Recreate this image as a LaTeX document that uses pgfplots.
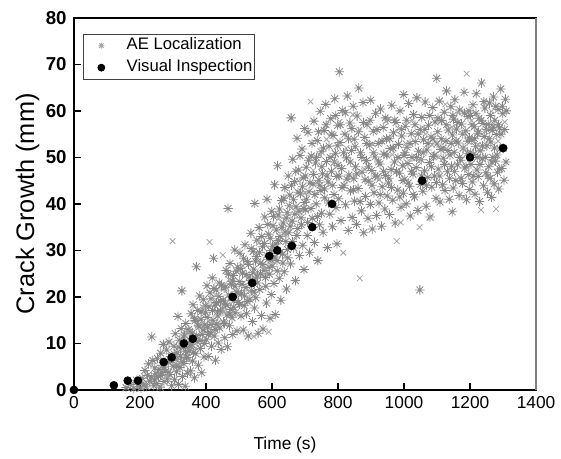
\documentclass[border=0pt]{standalone}
\usepackage{pgfplots}
\usepackage{pgfplotstable}
\pgfplotsset{compat=1.18}
\usepackage{fontspec}
\setmainfont{Liberation Sans}
\definecolor{aegray}{RGB}{135,135,135}
\definecolor{aelight}{RGB}{165,165,165}
\pgfdeclareplotmark{ast8}{%
 \pgfpathmoveto{\pgfqpoint{-\pgfplotmarksize}{0pt}}\pgfpathlineto{\pgfqpoint{\pgfplotmarksize}{0pt}}%
 \pgfpathmoveto{\pgfqpoint{0pt}{-\pgfplotmarksize}}\pgfpathlineto{\pgfqpoint{0pt}{\pgfplotmarksize}}%
 \pgfpathmoveto{\pgfqpoint{-0.707\pgfplotmarksize}{-0.707\pgfplotmarksize}}\pgfpathlineto{\pgfqpoint{0.707\pgfplotmarksize}{0.707\pgfplotmarksize}}%
 \pgfpathmoveto{\pgfqpoint{-0.707\pgfplotmarksize}{0.707\pgfplotmarksize}}\pgfpathlineto{\pgfqpoint{0.707\pgfplotmarksize}{-0.707\pgfplotmarksize}}%
 \pgfusepathqstroke}

\pgfplotstableread{
x y
158 0.5
172 1.2
181 0.3
189 2.1
195 0.8
199 1.6
203 0.4
207 2.5
212 1.1
215 4.2
219 0.7
223 3.1
226 5.6
230 1.9
234 2.8
236 11.4
239 6.3
242 0.9
245 4.7
248 3.5
251 1.4
253 6.8
256 2.9
258 4.4
261 0.6
263 7.9
266 3.7
268 5.2
271 9.8
273 1.8
276 6.1
278 4.0
281 8.6
283 2.4
286 5.9
288 10.3
291 3.3
294 7.2
296 0.9
301 5.1
303 9.4
305 2.2
307 12.1
309 6.6
311 3.9
313 8.0
315 15.8
317 1.2
319 10.7
321 4.8
323 7.3
325 13.2
327 21.3
329 2.9
331 9.1
333 5.7
335 11.8
337 0.8
339 14.3
341 6.9
344 3.6
346 10.2
349 8.4
351 12.6
353 4.1
355 16.4
357 9.7
359 6.2
361 18.3
363 11.0
365 2.6
367 14.9
369 7.8
371 26.5
373 10.4
375 17.1
377 5.3
379 13.6
381 20.2
383 8.9
385 15.2
387 3.7
389 11.9
392 19.4
394 7.1
396 14.0
399 16.7
401 10.8
403 22.4
405 13.5
407 7.2
409 17.9
413 12.3
415 19.6
417 9.4
419 24.1
421 15.0
423 28.3
425 11.6
427 18.2
429 6.4
431 21.5
433 14.2
435 16.8
437 10.1
440 23.0
442 13.3
444 19.0
446 8.7
449 17.4
453 14.6
455 21.9
457 11.2
459 18.5
461 25.7
463 16.1
465 9.3
467 39.0
469 20.4
471 13.8
473 27.2
475 17.3
477 22.8
479 15.5
481 11.9
483 24.6
485 19.2
487 30.1
489 16.6
492 21.1
494 12.7
496 26.4
499 18.8
501 23.3
503 29.4
506 15.9
508 20.7
511 25.1
513 12.9
516 18.1
518 31.2
521 22.0
523 16.4
526 27.6
528 11.6
531 24.3
533 19.5
536 33.7
538 21.4
541 14.7
543 29.8
545 26.0
547 17.6
548 40.1
549 23.9
551 19.8
553 28.7
556 24.5
558 12.2
561 34.9
563 21.6
566 27.3
568 16.0
571 30.8
573 13.1
576 25.7
578 37.2
581 22.3
583 18.7
585 41.0
588 28.1
590 33.5
592 24.9
594 15.4
596 30.0
598 20.5
599 38.4
601 26.6
603 35.3
606 22.9
608 44.1
610 16.2
612 31.4
615 27.8
617 48.2
619 37.6
622 24.0
624 33.0
627 19.3
629 40.7
632 29.2
634 35.9
637 25.4
639 43.5
642 31.9
644 21.7
646 38.1
648 28.4
649 46.0
651 33.8
654 41.9
656 27.1
658 58.5
661 36.3
663 49.6
666 30.5
668 44.8
671 23.5
673 39.4
676 54.1
678 34.7
681 47.3
683 28.9
686 42.2
688 37.0
691 51.8
693 31.1
695 45.6
697 25.9
698 40.3
699 56.2
702 38.7
704 47.9
707 33.2
709 55.4
712 42.6
714 29.6
719 50.3
722 36.9
724 44.3
727 57.8
729 31.7
732 48.8
734 40.0
737 53.6
739 27.8
742 45.1
744 35.5
746 59.9
748 42.9
749 51.2
750 38.0
753 46.5
755 33.9
758 55.8
760 41.3
763 61.4
765 49.1
768 30.6
770 44.7
773 52.4
775 37.8
778 58.3
780 47.0
783 35.1
785 54.7
788 42.0
790 62.6
792 50.8
794 39.2
796 45.9
797 31.4
799 56.9
800 48.3
802 41.1
804 68.4
806 53.2
809 36.4
811 47.6
813 60.1
818 44.0
821 55.0
823 39.8
826 49.9
828 63.2
831 34.3
833 46.2
836 57.4
838 42.8
841 51.5
843 37.1
846 61.0
848 45.4
849 53.9
850 40.6
853 48.0
856 35.6
858 58.9
861 43.3
863 64.9
868 51.0
871 38.5
873 46.8
876 61.8
878 33.8
881 54.3
883 41.6
886 49.3
888 57.0
891 36.9
893 44.9
896 52.6
898 39.9
899 62.3
902 47.2
904 34.6
907 55.6
909 42.4
912 50.1
914 59.5
917 37.5
919 45.8
922 53.0
924 40.2
927 48.6
929 60.4
932 35.2
934 43.7
937 56.4
939 50.7
942 38.9
944 46.1
947 54.0
949 41.7
951 58.1
953 44.5
956 37.7
958 51.9
961 47.4
963 61.2
966 40.8
968 55.3
971 49.0
973 35.9
976 57.5
981 43.0
983 52.8
986 46.6
988 60.0
991 39.3
993 54.6
996 48.2
998 42.3
999 63.5
1000 50.4
1002 45.3
1004 56.7
1007 40.0
1009 52.2
1012 48.7
1014 61.6
1017 43.8
1019 37.4
1022 55.1
1024 50.0
1027 46.4
1029 59.2
1032 41.5
1034 53.4
1037 47.8
1039 62.8
1042 38.6
1044 51.3
1048 21.5
1049 56.0
1050 44.2
1052 49.5
1054 58.6
1057 42.7
1059 53.8
1062 47.1
1064 61.9
1067 39.5
1069 51.6
1072 45.7
1074 56.9
1077 48.9
1079 37.2
1082 54.4
1084 43.6
1087 60.7
1089 50.2
1092 46.0
1094 57.6
1097 41.2
1099 67.0
1100 52.9
1098 44.6
1102 55.5
1104 47.5
1107 62.1
1109 40.4
1112 51.7
1114 57.9
1117 44.1
1119 49.8
1122 59.7
1124 42.9
1127 53.5
1129 64.3
1132 46.9
1134 55.9
1137 41.0
1139 50.5
1142 60.9
1144 48.1
1147 54.8
1149 43.4
1150 58.2
1146 38.3
1152 51.1
1154 62.4
1157 45.0
1159 56.1
1162 48.4
1164 53.1
1167 41.8
1169 60.2
1172 49.4
1174 57.2
1177 44.4
1179 52.0
1182 64.0
1184 47.7
1187 55.7
1189 40.9
1192 50.9
1194 58.8
1196 46.3
1198 54.2
1199 43.1
1201 59.0
1203 48.5
1205 53.7
1207 44.7
1209 61.3
1211 50.6
1213 56.6
1215 42.1
1217 52.3
1219 63.7
1221 47.3
1223 55.2
1225 45.9
1227 58.4
1229 40.5
1231 51.4
1235 66.0
1237 49.7
1239 57.3
1241 43.9
1243 54.5
1245 60.6
1248 46.7
1251 52.5
1253 42.5
1255 57.1
1257 48.0
1259 61.7
1261 45.5
1263 53.3
1265 41.4
1267 55.8
1269 50.0
1271 63.0
1273 44.3
1275 58.0
1277 49.2
1281 54.9
1283 46.8
1285 60.3
1287 43.2
1289 56.3
1291 51.8
1293 64.7
1296 47.6
1299 59.4
1303 45.1
1307 62.5
}\aestar

\pgfplotstableread{
x y
244 2.2
262 3.1
274 4.9
287 3.8
298 6.4
304 7.7
312 5.3
318 9.2
326 6.1
332 11.4
338 8.3
343 7.0
348 13.0
352 9.4
358 12.2
362 8.1
366 15.3
372 11.7
376 13.9
382 10.6
386 16.8
391 12.9
395 10.0
398 18.1
404 15.6
408 12.0
412 20.9
416 14.1
420 17.1
424 21.8
428 13.0
432 18.8
436 15.9
439 20.1
443 17.0
447 22.5
452 19.3
456 14.3
460 22.1
464 18.2
468 24.9
472 16.3
476 20.0
480 23.4
484 17.8
488 22.3
493 25.5
497 20.8
502 18.4
505 26.1
509 22.7
514 28.2
517 20.2
522 24.8
525 19.0
529 27.0
534 23.5
537 30.4
542 25.2
546 21.0
550 27.7
554 32.2
557 23.0
562 29.6
565 25.0
569 33.0
572 27.0
577 31.5
580 24.2
584 29.0
587 35.6
591 26.4
595 32.6
597 28.0
602 30.9
605 37.3
609 28.6
613 34.4
616 25.6
620 32.1
623 38.9
626 29.6
630 35.0
633 27.3
636 41.2
640 33.9
643 37.0
647 30.2
652 39.6
655 35.2
659 44.0
662 31.9
665 40.9
669 37.8
672 47.0
675 33.2
679 42.5
682 38.4
685 50.4
689 35.5
692 43.7
696 39.0
701 46.0
705 41.0
708 36.0
711 49.4
715 44.5
718 39.0
721 53.0
726 46.3
730 42.0
735 50.0
738 37.3
741 55.5
745 44.0
751 48.0
756 52.0
759 43.2
764 57.0
767 46.0
771 40.2
776 50.0
781 55.0
784 44.0
789 49.0
793 59.0
798 52.5
803 46.0
807 57.0
812 43.5
817 51.0
822 59.6
827 45.3
832 54.0
837 49.0
842 56.2
847 43.0
852 52.3
857 46.5
862 55.5
867 40.5
872 50.0
877 57.5
882 45.2
887 53.0
892 48.0
897 58.0
903 44.0
908 51.0
913 46.0
918 56.0
923 49.0
928 42.0
933 53.5
938 47.0
943 58.5
948 50.5
954 45.5
957 54.0
962 43.5
967 52.0
972 58.0
977 47.0
982 50.0
987 41.5
992 56.0
997 45.0
1003 51.0
1008 58.0
1013 44.5
1018 53.0
1023 47.0
1028 42.0
1033 57.0
1038 50.0
1043 55.0
1053 46.0
1058 51.0
1063 56.0
1068 44.0
1073 53.0
1078 59.0
1083 48.0
1088 54.0
1093 50.5
1103 58.5
1108 46.0
1113 54.0
1118 52.0
1123 48.5
1128 57.0
1133 51.5
1138 45.5
1143 53.0
1148 59.0
1153 47.0
1158 53.5
1163 57.5
1168 50.0
1173 45.5
1178 55.0
1183 59.5
1188 48.0
1193 53.5
1197 60.0
1202 51.0
1206 57.0
1210 46.0
1214 54.0
1218 59.5
1222 50.0
1226 55.5
1230 48.5
1234 58.0
1238 52.5
1242 62.0
1246 50.0
1250 56.0
1254 46.0
1258 54.0
1262 59.0
1266 49.0
1270 56.5
1274 52.0
1278 61.0
1282 50.5
1286 57.0
1290 47.5
1294 55.0
1298 61.0
1301 52.0
1305 56.0
1309 49.0
1310 60.0
}\aestarb

\pgfplotstableread{
x y
299 32.0
280 3.0
320 6.0
345 12.5
370 9.0
390 17.8
411 31.8
410 14.8
430 20.3
451 29.0
455 16.9
470 23.7
490 19.9
510 26.8
530 21.2
545 11.5
560 31.6
575 26.2
590 12.5
605 29.9
620 36.8
640 33.4
660 39.1
680 45.0
700 42.3
717 62.0
725 47.2
745 50.5
765 53.9
785 48.7
805 57.7
816 29.5
825 52.0
845 59.2
866 24.0
865 56.0
880 47.5
905 52.9
925 45.2
945 57.8
965 50.6
978 32.0
985 56.1
1005 53.0
1025 58.0
1045 49.1
1047 35.0
1065 55.0
1085 52.7
1105 50.0
1125 61.4
1145 56.5
1165 59.6
1185 51.6
1190 68.0
1205 57.9
1225 52.7
1233 38.7
1245 55.6
1265 59.9
1279 38.9
1285 53.5
1305 57.6
1180 41.5
1080 37.0
990 36.0
}\aecross

\pgfplotstableread{
x y
0 0
121 1
163 2
194 2
272 6
296 7
333 10
360 11
481 20
540 23
592 28.8
616 30
660 31
722 35
782 40
1055 45
1200 50
1300 52
}\visual

\begin{document}
\begin{tikzpicture}
\begin{axis}[
  scale only axis,
  width=346.5pt, height=279pt,
  xmin=0, xmax=1400, ymin=0, ymax=80,
  xtick={0,200,...,1400}, ytick={0,10,...,80},
  tick pos=left,
  tick align=inside,
  major tick length=5pt,
  axis line style={line width=1pt, black},
  every tick/.style={black, line width=1pt},
  /pgf/number format/assume math mode=true,
  /pgf/number format/1000 sep={},
  xticklabel style={font=\fontsize{13}{13}\selectfont, yshift=-1pt},
  yticklabel style={font=\bfseries\fontsize{14}{14}\selectfont, xshift=-2pt},
  xlabel={Time (s)},
  ylabel={Crack Growth (mm)},
  xlabel style={font=\fontsize{13}{13}\selectfont, xshift=-15pt, yshift=-15pt},
  ylabel style={font=\fontsize{19}{19}\selectfont, yshift=-2pt},
  legend style={at={(rel axis cs:0.0195,0.957)}, anchor=north west, draw=black!75, line width=0.6pt, font=\fontsize{12.5}{15}\selectfont, inner xsep=1pt, inner ysep=0.3pt, nodes={inner xsep=0.5pt, inner ysep=2.25pt, text height=9pt, text depth=3pt}, row sep=0pt},
  legend image code/.code={\path[draw=none, fill=none] (-12.5pt,-0.1pt) rectangle (18.5pt,0.1pt); \draw[#1] plot coordinates {(0pt,0pt)};},
  legend cell align=left,
  clip=false,
]
\addplot[only marks, mark=ast8, mark size=3.6pt, color=aegray, mark options={line width=0.6pt}, legend image post style={mark size=2.3pt, color=aelight}] table {\aestar};
\addlegendentry{AE Localization}
\addplot[only marks, mark=ast8, mark size=3.4pt, color=aegray, mark options={line width=0.6pt}, forget plot] table {\aestarb};
\addplot[only marks, mark=x, mark size=3pt, color=aelight, mark options={line width=0.6pt}, forget plot] table {\aecross};
\addplot[only marks, mark=*, mark size=3pt, color=black, legend image post style={mark size=2.6pt}] table {\visual};
\addlegendentry{Visual Inspection}
\draw[line width=1pt, color=gray] (rel axis cs:1,0) -- (rel axis cs:1,1);
\coordinate (bl) at (rel axis cs:-0.160,-0.177);
\coordinate (tr) at (rel axis cs:1.054,1.048);
\end{axis}
\path (bl) rectangle (tr);
\end{tikzpicture}
\end{document}
